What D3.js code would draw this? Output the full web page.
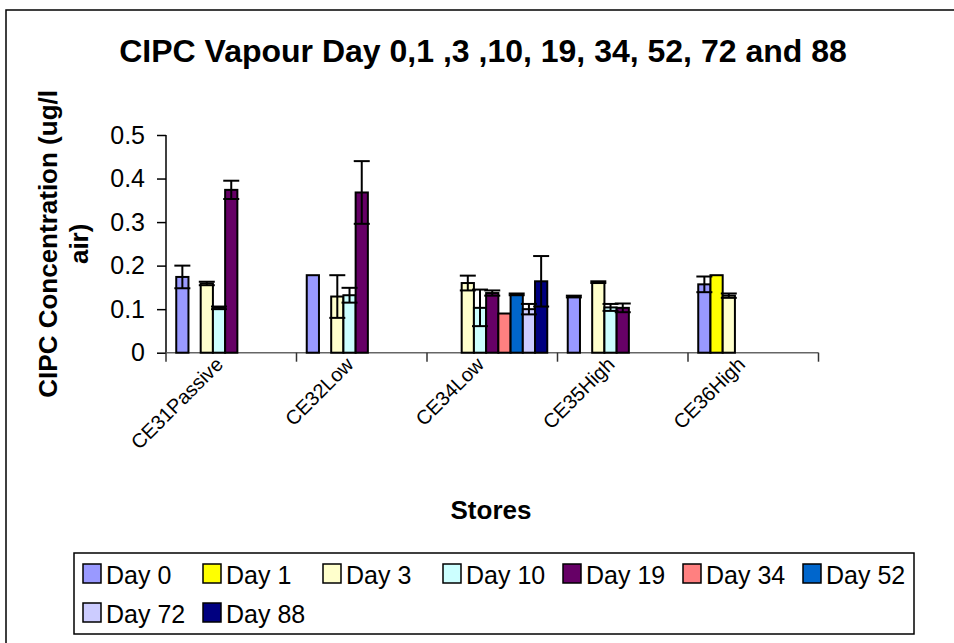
<!DOCTYPE html>
<html>
<head>
<meta charset="utf-8">
<script src="https://cdn.jsdelivr.net/npm/d3@7"></script>
<style>
  body { margin: 0; background: #fff; }
  text { font-family: "Liberation Sans", Arial, sans-serif; }
</style>
</head>
<body>
<div id="chart"></div>
<script>
var stores = ["CE31Passive", "CE32Low", "CE34Low", "CE35High", "CE36High"];
var days = ["Day 0", "Day 1", "Day 3", "Day 10", "Day 19", "Day 34", "Day 52", "Day 72", "Day 88"];
var dayColors = ["#9999FF", "#FFFF00", "#FFFFCC", "#CCFFFF", "#660066", "#FF8080", "#0066CC", "#CCCCFF", "#000080"];

// mean concentration per store, one array per day (null = not measured)
var day0 = [0.174, 0.178, null, 0.129, 0.157];
var day1 = [null, null, null, null, 0.178];
var day3 = [0.159, 0.129, 0.160, 0.162, 0.131];
var day10 = [0.103, 0.132, 0.103, 0.104, null];
var day19 = [0.374, 0.368, 0.137, 0.103, null];
var day34 = [null, null, 0.090, null, null];
var day52 = [null, null, 0.134, null, null];
var day72 = [null, null, 0.100, null, null];
var day88 = [null, null, 0.164, null, null];

// error bar half-lengths
var err0 = [0.026, 0, null, 0.002, 0.018];
var err1 = [null, null, null, null, 0];
var err3 = [0.004, 0.049, 0.017, 0.002, 0.005];
var err10 = [0.003, 0.017, 0.042, 0.008, null];
var err19 = [0.021, 0.072, 0.006, 0.010, null];
var err34 = [null, null, 0, null, null];
var err52 = [null, null, 0.002, null, null];
var err72 = [null, null, 0.012, null, null];
var err88 = [null, null, 0.058, null, null];

var yTicks = [0, 0.1, 0.2, 0.3, 0.4, 0.5];

var values = [day0, day1, day3, day10, day19, day34, day52, day72, day88];
var errors = [err0, err1, err3, err10, err19, err34, err52, err72, err88];

var width = 954, height = 643;
var plot = { left: 166, right: 818.5, top: 135, bottom: 352.7 };

var svg = d3.select("#chart").append("svg")
  .attr("width", width)
  .attr("height", height);

svg.append("rect")
  .attr("x", 6).attr("y", 10)
  .attr("width", width + 10).attr("height", height + 10)
  .attr("fill", "#fff")
  .attr("stroke", "#000")
  .attr("stroke-width", 1.5);

svg.append("text")
  .attr("x", 483).attr("y", 62)
  .attr("text-anchor", "middle")
  .attr("font-size", 32)
  .attr("font-weight", "bold")
  .text("CIPC Vapour Day 0,1 ,3 ,10, 19, 34, 52, 72 and 88");

var x = d3.scaleBand()
  .domain(stores)
  .range([plot.left, plot.right])
  .paddingInner(0.157)
  .paddingOuter(0.0785);

var xDay = d3.scaleBand()
  .domain(days)
  .range([0, x.bandwidth()]);

var y = d3.scaleLinear()
  .domain([0, 0.5])
  .range([plot.bottom, plot.top]);

var color = d3.scaleOrdinal().domain(days).range(dayColors);

// y axis
var yAxis = svg.append("g")
  .attr("transform", "translate(" + plot.left + ",0)")
  .call(d3.axisLeft(y).tickValues(yTicks).tickSize(9).tickPadding(12)
    .tickFormat(function(d) { return d === 0 ? "0" : d3.format(".1f")(d); }));
yAxis.select(".domain").attr("stroke", "#000").attr("stroke-width", 1.5).attr("d", "M0," + plot.top + "V" + plot.bottom);
yAxis.selectAll(".tick line").attr("stroke", "#000").attr("stroke-width", 1.5);
yAxis.selectAll(".tick text")
  .attr("font-size", 25)
  .attr("fill", "#000")
  .attr("font-family", "Liberation Sans, Arial, sans-serif");

// x axis line and category boundary ticks
var step = x.step();
var bounds = d3.range(stores.length + 1).map(function(i) { return plot.left + i * step; });
svg.append("line")
  .attr("x1", plot.left).attr("x2", plot.right)
  .attr("y1", y(0)).attr("y2", y(0))
  .attr("stroke", "#666").attr("stroke-width", 1.5);
svg.selectAll("line.xtick")
  .data(bounds)
  .enter().append("line")
  .attr("class", "xtick")
  .attr("x1", function(d) { return d; }).attr("x2", function(d) { return d; })
  .attr("y1", y(0)).attr("y2", y(0) + 9)
  .attr("stroke", "#333").attr("stroke-width", 1.5);

svg.selectAll("text.xlabel")
  .data(stores)
  .enter().append("text")
  .attr("class", "xlabel")
  .attr("font-size", 20)
  .attr("text-anchor", "end")
  .attr("transform", function(d) {
    return "translate(" + (x(d) + x.bandwidth() / 2 - 7) + "," + (y(0) + 13) + ") rotate(-45)";
  })
  .text(function(d) { return d; });

// bars
var rows = [];
days.forEach(function(day, i) {
  stores.forEach(function(s, j) {
    if (values[i][j] != null) {
      rows.push({ day: day, store: s, value: values[i][j], err: errors[i][j] || 0 });
    }
  });
});

var bars = svg.append("g");
bars.selectAll("rect")
  .data(rows)
  .enter().append("rect")
  .attr("x", function(d) { return x(d.store) + xDay(d.day); })
  .attr("y", function(d) { return y(d.value); })
  .attr("width", xDay.bandwidth())
  .attr("height", function(d) { return y(0) - y(d.value); })
  .attr("fill", function(d) { return color(d.day); })
  .attr("stroke", "#000")
  .attr("stroke-width", 2);

// error bars
var eb = svg.append("g")
  .attr("stroke", "#000")
  .attr("stroke-width", 2);
rows.filter(function(d) { return d.err > 0; }).forEach(function(d) {
  var cx = x(d.store) + xDay(d.day) + xDay.bandwidth() / 2;
  var hi = y(d.value + d.err), lo = y(d.value - d.err);
  eb.append("line").attr("x1", cx).attr("x2", cx).attr("y1", hi).attr("y2", lo);
  eb.append("line").attr("x1", cx - 8).attr("x2", cx + 8).attr("y1", hi).attr("y2", hi);
  eb.append("line").attr("x1", cx - 8).attr("x2", cx + 8).attr("y1", lo).attr("y2", lo);
});

// axis titles
var yTitle = svg.append("text")
  .attr("transform", "translate(57," + ((plot.top + plot.bottom) / 2) + ") rotate(-90)")
  .attr("text-anchor", "middle")
  .attr("font-size", 26)
  .attr("font-weight", "bold");
yTitle.append("tspan").attr("x", 0).attr("y", 0).text("CIPC Concentration (ug/l");
yTitle.append("tspan").attr("x", 0).attr("y", 31).text("air)");

svg.append("text")
  .attr("x", 491).attr("y", 519)
  .attr("text-anchor", "middle")
  .attr("font-size", 26)
  .attr("font-weight", "bold")
  .text("Stores");

// legend
var legend = svg.append("g");
legend.append("rect")
  .attr("x", 74).attr("y", 553)
  .attr("width", 840).attr("height", 81)
  .attr("fill", "#fff")
  .attr("stroke", "#000")
  .attr("stroke-width", 1.5);

var item = legend.selectAll("g.item")
  .data(days)
  .enter().append("g")
  .attr("class", "item")
  .attr("transform", function(d, i) {
    return "translate(" + (83 + (i % 7) * 120) + "," + (564 + Math.floor(i / 7) * 39) + ")";
  });
item.append("rect")
  .attr("width", 18).attr("height", 19)
  .attr("fill", function(d) { return color(d); })
  .attr("stroke", "#000")
  .attr("stroke-width", 1.5);
item.append("text")
  .attr("x", 23).attr("y", 20)
  .attr("font-size", 25)
  .text(function(d) { return d; });
</script>
</body>
</html>
